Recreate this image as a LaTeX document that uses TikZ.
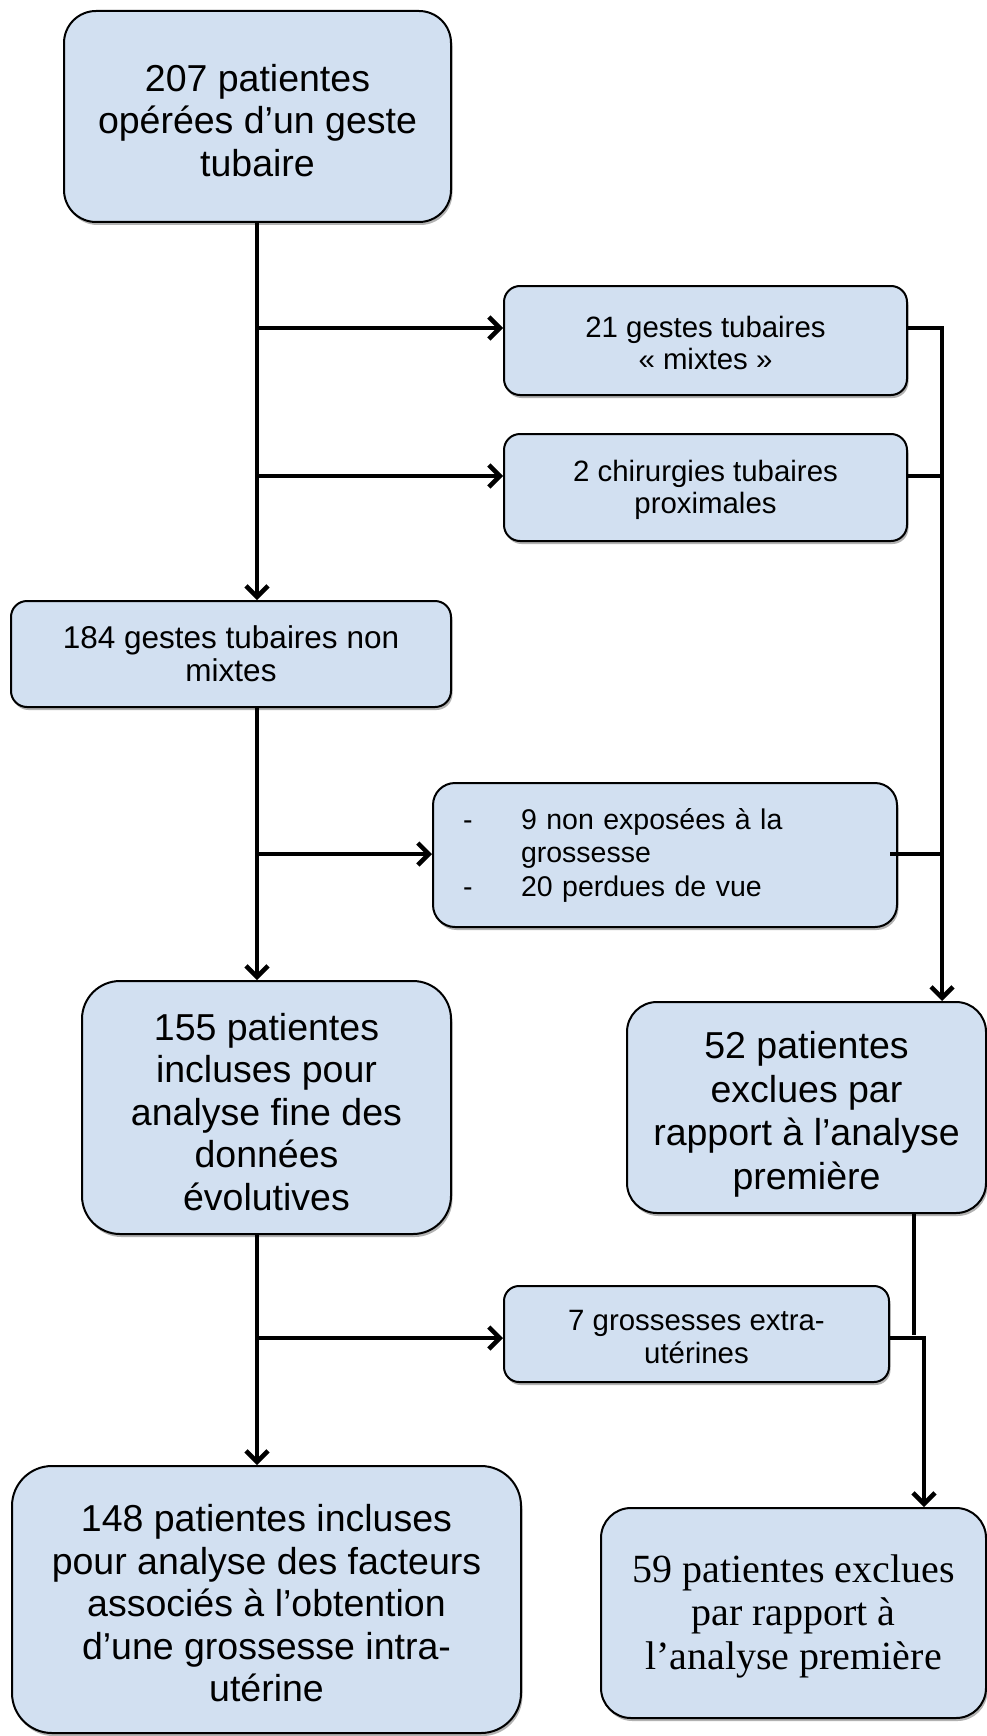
\documentclass[tikz,border=0pt]{standalone}
\usepackage{fontspec}
\setmainfont{Liberation Sans}
\newfontfamily\serifcam{Liberation Serif}
\usetikzlibrary{arrows.meta,shadows}
\definecolor{boxfill}{RGB}{210,224,241}
\newcommand\tstrut[1]{\rule{0pt}{#1}}
\tikzset{
  boxbase/.style={draw=black, line width=2pt, fill=boxfill, align=center, inner sep=0pt,
    drop shadow={shadow xshift=1.5pt, shadow yshift=-3pt, opacity=0.3, fill=black}},
  bigbox/.style={boxbase, font=\fontsize{37.5}{42.5}\selectfont},
  smallbox/.style={boxbase, font=\fontsize{29.4}{32.5}\selectfont},
  conn/.style={line width=4.5pt, line join=miter},
  arr/.style={conn, -{Straight Barb[length=11pt,width=22pt]}}
}
\begin{document}
\begin{tikzpicture}[x=1pt,y=-1pt]
\fill[white] (0,0) rectangle (987,1736);
\useasboundingbox (0,0) rectangle (987,1736);

% boxes
\node[bigbox, minimum width=387pt, minimum height=211pt, rounded corners=32pt] (b207) at (257.5,116.5)
  {\tstrut{35pt}207 patientes\\opérées d’un geste\\tubaire};
\node[smallbox, minimum width=403pt, minimum height=109pt, rounded corners=16pt] (b21) at (705.5,340.5)
  {\tstrut{26pt}21 gestes tubaires\\« mixtes »};
\node[smallbox, minimum width=403pt, minimum height=107pt, rounded corners=16pt] (b2) at (705.5,487.5)
  {\tstrut{26pt}2 chirurgies tubaires\\proximales};
\node[smallbox, font=\fontsize{31.5}{33}\selectfont, minimum width=440pt, minimum height=106pt, rounded corners=16pt] (b184) at (231,654)
  {184 gestes tubaires non\\mixtes};
\node[smallbox, font=\fontsize{28.5}{33.5}\selectfont, minimum width=464pt, minimum height=144pt, rounded corners=22pt,
      text width=404pt, inner xsep=30pt, align=left] (b9) at (665,855)
  {\makebox[58pt][l]{-}9 non exposées à la\\\hspace*{58pt}grossesse\\\makebox[58pt][l]{-}20 perdues de vue};
\node[bigbox, minimum width=369pt, minimum height=253pt, rounded corners=38pt] (b155) at (266.5,1107.5)
  {\tstrut{36pt}155 patientes\\incluses pour\\analyse fine des\\données\\évolutives};
\node[bigbox, font=\fontsize{37.5}{43.5}\selectfont, minimum width=359pt, minimum height=211pt, rounded corners=30pt] (b52) at (806.5,1107.5)
  {\tstrut{41pt}52 patientes\\exclues par\\rapport à l’analyse\\première};
\node[smallbox, minimum width=385pt, minimum height=96pt, rounded corners=15pt] (b7) at (696.5,1334)
  {\tstrut{26pt}7 grossesses extra-\\utérines};
\node[bigbox, minimum width=509pt, minimum height=267pt, rounded corners=40pt] (b148) at (266.5,1599.5)
  {\tstrut{35pt}148 patientes incluses\\pour analyse des facteurs\\associés à l’obtention\\d’une grossesse intra-\\utérine};
\node[boxbase, font=\serifcam\fontsize{40}{43.5}\selectfont, minimum width=385pt, minimum height=210pt, rounded corners=30pt] (b59) at (793.5,1613)
  {\tstrut{34pt}59 patientes exclues\\par rapport à\\l’analyse première};

% junction coordinates
\coordinate (j21) at (257,328);
\coordinate (j2) at (257,476);
\coordinate (j9) at (257,854);
\coordinate (j7) at (257,1338);
\coordinate (r21) at (942,328);
\coordinate (r2) at (942,476);
\coordinate (r9) at (942,854);
\coordinate (s9) at (890,854);
\coordinate (e52) at (914,1335);
\coordinate (c7) at (924,1338);

% main trunk
\draw[arr] (b207.south -| j21) -- (b184.north -| j21);
\draw[arr] (j21) -- (j21 -| b21.west);
\draw[arr] (j2) -- (j2 -| b2.west);
\draw[arr] (b184.south -| j9) -- (b155.north -| j9);
\draw[arr] (j9) -- (j9 -| b9.west);
\draw[arr] (b155.south -| j7) -- (b148.north -| j7);
\draw[arr] (j7) -- (j7 -| b7.west);

% right side
\draw[arr] (r21 -| b21.east) -- (r21) -- (b52.north -| r21);
\draw[conn] (r2 -| b2.east) -- (r2);
\draw[conn] (s9) -- (r9);
\draw[conn] (b52.south -| e52) -- (e52);
\draw[arr] (c7 -| b7.east) -- (c7) -- (b59.north -| c7);
\end{tikzpicture}
\end{document}
